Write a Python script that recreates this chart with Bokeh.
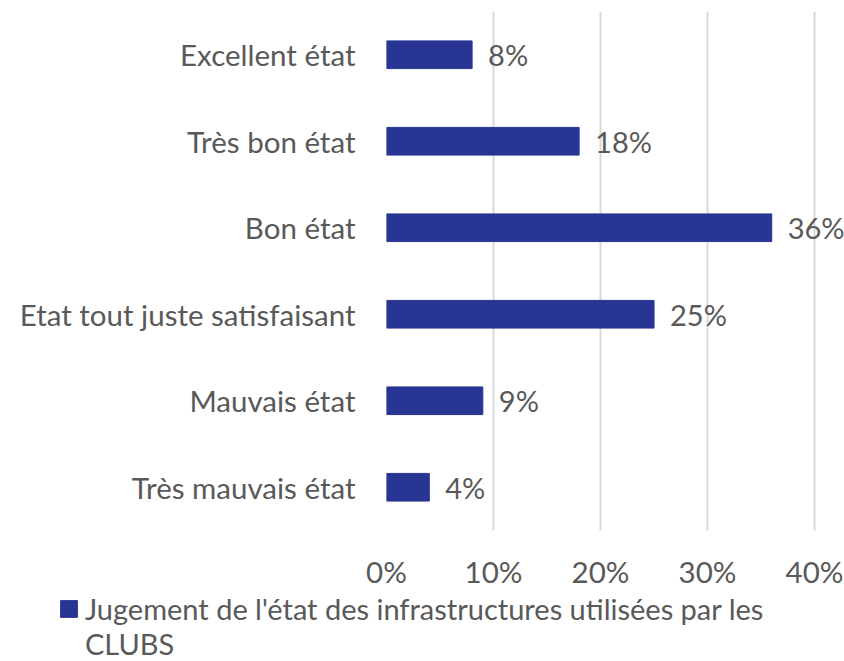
from bokeh.plotting import figure
from bokeh.layouts import column
from bokeh.models import (FactorRange, Range1d, PrintfTickFormatter, ColumnDataSource,
                          Legend, LegendItem, FixedTicker)
from bokeh.core.properties import value
from bokeh.embed import file_html
from bokeh.resources import INLINE

categories = ["Excellent état", "Très bon état", "Bon état",
              "Etat tout juste satisfaisant", "Mauvais état", "Très mauvais état"]
values = [8, 18, 36, 25, 9, 4]
tick_values = [0, 10, 20, 30, 40]
series_name = "Jugement de l'état des infrastructures utilisées par les"
series_name_2 = "CLUBS"

FONT = "Lato"
FS = "29.5px"
TXT = "#595959"
BAR = "#283593"

src = ColumnDataSource(dict(cat=categories, val=values,
                            lab=[f"{v}%" for v in values]))

# x range extends past 40% so that the "36%" data label is not clipped
p = figure(width=844, height=591, output_backend="svg", toolbar_location=None,
           y_range=FactorRange(*reversed(categories)), x_range=Range1d(0, 42.8),
           min_border_left=386, min_border_right=0, min_border_top=11,
           min_border_bottom=60)
p.frame_align = False

r = p.hbar(y="cat", right="val", left=0, height=0.32, source=src,
           fill_color=BAR, line_color=BAR)
p.text(x="val", y="cat", text="lab", source=src, x_offset=16,
       text_baseline="middle", text_align="left",
       text_font=value(FONT), text_font_size="29px", text_color=TXT)

p.outline_line_color = None
p.ygrid.grid_line_color = None
p.xgrid.grid_line_color = "#D9D9D9"
p.xgrid.grid_line_width = 2
p.xaxis.ticker = FixedTicker(ticks=tick_values)
p.xaxis.formatter = PrintfTickFormatter(format="%d%%")
for ax in (p.xaxis[0], p.yaxis[0]):
    ax.axis_line_color = None
    ax.major_tick_line_color = None
    ax.minor_tick_line_color = None
    ax.major_label_text_font = FONT
    ax.major_label_text_font_size = FS
    ax.major_label_text_color = TXT
p.yaxis.major_label_standoff = 25
p.xaxis.major_label_standoff = 17

# legend strip below the chart (its bars lie outside its view; only the legend shows)
lf = figure(width=844, height=70, output_backend="svg", toolbar_location=None,
            x_range=Range1d(-2, -1), y_range=FactorRange(*reversed(categories)),
            x_axis_type=None, y_axis_type=None,
            min_border_left=58, min_border_right=0, min_border_top=0,
            min_border_bottom=0)
lf.frame_align = False
lf.outline_line_color = None
lf.grid.visible = False
lr = lf.hbar(y="cat", right="val", left=0, height=0.3, source=src,
             fill_color=BAR, line_color=BAR)
lr_blank = lf.hbar(y="cat", right="val", left=0, height=0.3, source=src,
                   fill_alpha=0, line_alpha=0)
legend = Legend(items=[LegendItem(label=series_name, renderers=[lr]),
                       LegendItem(label=series_name_2, renderers=[lr_blank])],
                location="top_left", glyph_width=21, glyph_height=21,
                label_height=34, label_text_font=FONT, label_text_font_size="29px",
                label_text_color=TXT, label_text_baseline="middle",
                padding=0, margin=0, spacing=0, label_standoff=6,
                border_line_color=None, background_fill_alpha=0)
lf.add_layout(legend, "center")

layout = column(p, lf, spacing=0)
open("out.html", "w").write(file_html(layout, INLINE))
